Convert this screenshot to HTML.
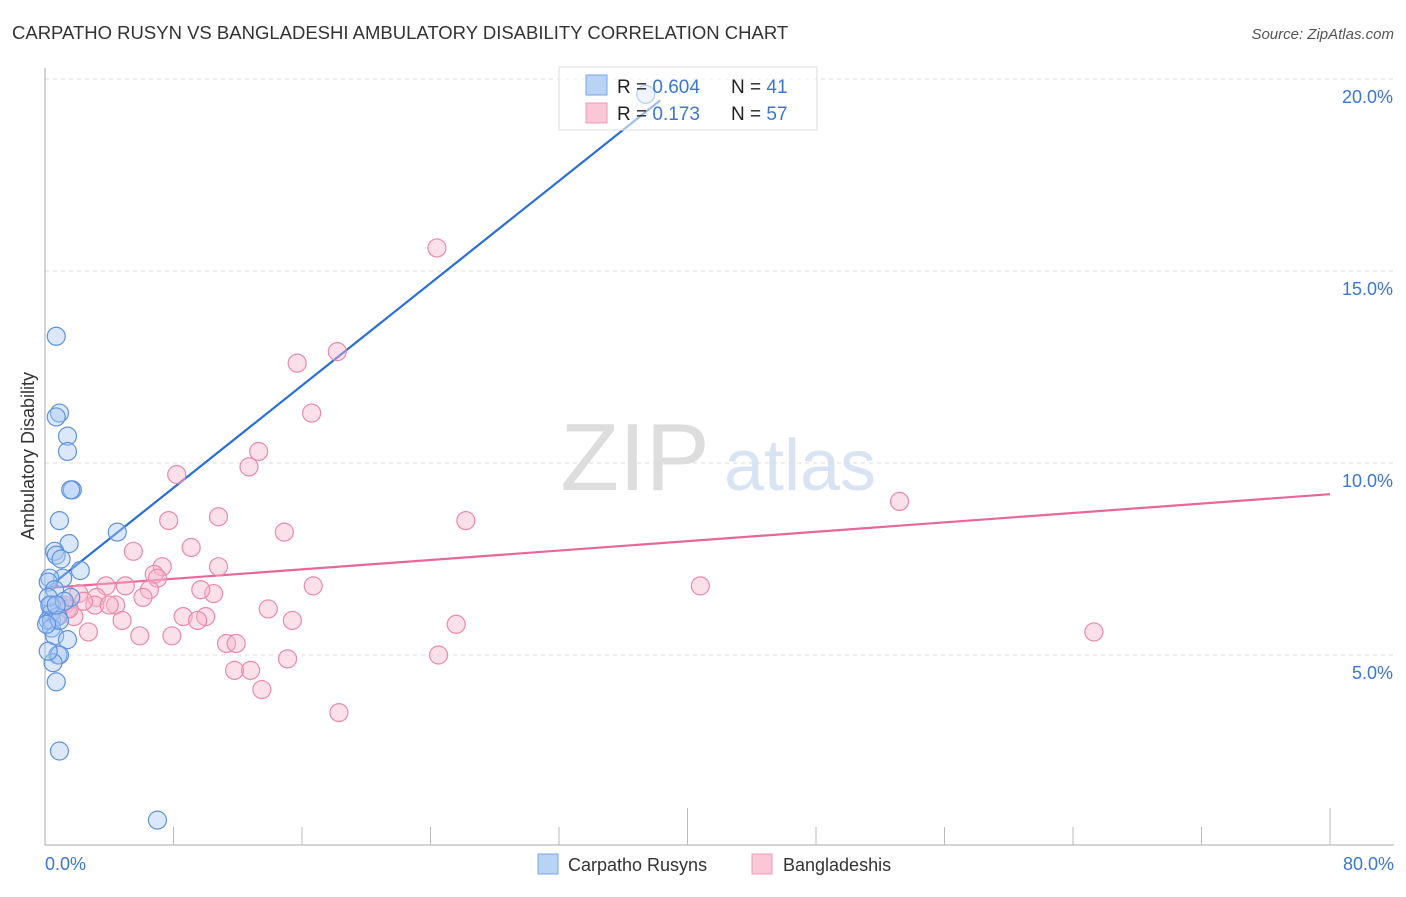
<!DOCTYPE html>
<html><head><meta charset="utf-8"><style>
body{margin:0;background:#fff;font-family:"Liberation Sans",sans-serif}
svg text{font-family:"Liberation Sans",sans-serif}
</style></head><body>
<svg id="chart" width="1406" height="892" viewBox="0 0 1406 892" xmlns="http://www.w3.org/2000/svg">
<text x="12" y="39" font-size="18.5" fill="#333">CARPATHO RUSYN VS BANGLADESHI AMBULATORY DISABILITY CORRELATION CHART</text>
<text x="1394" y="39" font-size="15" fill="#555" text-anchor="end" font-style="italic">Source: ZipAtlas.com</text>
<text x="34" y="456" font-size="18" fill="#333" text-anchor="middle" transform="rotate(-90 34 456)">Ambulatory Disability</text>
<g><text x="635" y="490" font-size="96" fill="#ddd" text-anchor="middle" font-family="Liberation Serif">ZIP</text><text x="800" y="490" font-size="72" fill="#d8e4f4" text-anchor="middle">atlas</text></g>
<g id="grid"></g><g id="axes"></g><g id="lines"></g><g id="pts"></g>
<g>
<rect x="559" y="67" width="258" height="63" fill="#fff" fill-opacity="0.55" stroke="#ddd"/>
<rect x="586" y="75" width="21" height="20" fill="#b9d3f5" stroke="#7aa5e5"/>
<rect x="586" y="103" width="21" height="20" fill="#fac7d6" stroke="#ef9ab5"/>
<text x="617" y="93" font-size="19" fill="#222">R = <tspan fill="#3b76d6">0.604</tspan></text>
<text x="731" y="93" font-size="19" fill="#222">N = <tspan fill="#3b76d6"> 41</tspan></text>
<text x="617" y="120" font-size="19" fill="#222">R = <tspan fill="#3b76d6"> 0.173</tspan></text>
<text x="731" y="120" font-size="19" fill="#222">N = <tspan fill="#3b76d6">57</tspan></text>
</g>
<g>
<rect x="538" y="854" width="20" height="20" fill="#b9d3f5" stroke="#7aa5e5"/>
<text x="568" y="871" font-size="18" fill="#333">Carpatho Rusyns</text>
<rect x="752" y="854" width="20" height="20" fill="#fac7d6" stroke="#ef9ab5"/>
<text x="783" y="871" font-size="18" fill="#333">Bangladeshis</text>
</g>
</svg>
<script>
const blueX=[37.4,0.7,0.9,0.7,1.4,1.4,1.7,1.6,0.9,4.5,1.5,0.6,0.7,1.0,1.1,2.2,0.3,0.2,0.6,0.4,0.4,1.6,0.2,0.4,0.8,0.4,0.6,1.4,0.8,0.9,0.5,0.7,0.9,7.0,0.2,0.3,0.9,0.1,0.2,1.2,0.7];
const blueY=[19.6,13.3,11.3,11.2,10.7,10.3,9.3,9.3,8.5,8.2,7.9,7.7,7.6,7.5,7.0,7.2,7.0,6.9,6.7,6.3,6.1,6.5,5.9,5.9,6.0,5.7,5.5,5.4,5.0,5.0,4.8,4.3,2.5,0.7,6.5,6.3,5.9,5.8,5.1,6.4,6.3];
const pinkX=[24.4,15.7,18.2,16.6,13.3,12.7,8.2,53.2,26.2,10.8,7.7,14.9,9.1,5.5,10.8,7.3,6.8,7.0,16.7,40.8,5.0,3.8,10.5,9.7,6.5,6.1,2.1,3.2,4.4,3.1,1.2,1.4,13.9,8.6,10.0,9.5,4.8,15.4,25.6,1.8,0.7,2.7,5.9,7.9,11.3,11.9,65.3,24.5,15.1,11.8,12.8,13.5,18.3,2.4,0.9,4.0,1.5];
const pinkY=[15.6,12.6,12.9,11.3,10.3,9.9,9.7,9.0,8.5,8.6,8.5,8.2,7.8,7.7,7.3,7.3,7.1,7.0,6.8,6.8,6.8,6.8,6.6,6.7,6.7,6.5,6.6,6.5,6.3,6.3,6.3,6.2,6.2,6.0,6.0,5.9,5.9,5.9,5.8,6.0,6.0,5.6,5.5,5.5,5.3,5.3,5.6,5.0,4.9,4.6,4.6,4.1,3.5,6.4,6.3,6.3,6.2];
const blueLine=[6.69,0.333,38.3]; // intercept, slope, x end
const pinkLine=[6.74,0.0306,80];
const yTicks=[5,10,15,20];
const xTicks=[0,8,16,24,32,40,48,56,64,72,80];
const NS='http://www.w3.org/2000/svg';
const sx=v=>45+v*16.0625, sy=v=>847-v*38.4;
function mk(parent,tag,attrs){const e=document.createElementNS(NS,tag);for(const k in attrs)e.setAttribute(k,attrs[k]);document.getElementById(parent).appendChild(e);return e;}
yTicks.forEach(t=>{
 const l=mk('grid','line',{x1:45,x2:1394,y1:sy(t),y2:sy(t),stroke:'#ddd','stroke-dasharray':'4 4'});
 
 
 const tx=mk('grid','text',{x:1393,y:sy(t)+24,'font-size':18,fill:'#3b76d6','text-anchor':'end'});
 tx.textContent=t.toFixed(1)+'%';
 
 
});
const ax=mk('axes','line',{x1:45,x2:1394,y1:845,y2:845,stroke:'#aaa'});


const ay=mk('axes','line',{x1:45,x2:45,y1:68,y2:845,stroke:'#aaa'});


xTicks.forEach((t,i)=>{
 if(i===0)return;
 const long=(t===40||t===80);
 const l=mk('axes','line',{x1:sx(t),x2:sx(t),y1:long?808:827,y2:845,stroke:'#bbb'});
 
 
});
[[0,'start',45],[80,'end',1394]].forEach(([t,a,x])=>{
 const tx=mk('axes','text',{x:x,y:870,'font-size':18,fill:'#3b76d6','text-anchor':a});
 tx.textContent=t.toFixed(1)+'%';
 
 
});
function drawPts(X,Y,fill,stroke,name){X.forEach((x,i)=>{
 const c=mk('pts','circle',{cx:sx(x),cy:sy(Y[i]),r:9,fill:fill,'fill-opacity':0.42,stroke:stroke,'stroke-width':1.2});
 
 
});}
drawPts(pinkX,pinkY,'#f7b6ca','#e98aa9','bangladeshi');
drawPts(blueX,blueY,'#a9c8f2','#5e92df','carpatho');
function drawLine(p,color,name){
 const l=mk('lines','line',{x1:sx(0),y1:sy(p[0]),x2:sx(p[2]),y2:sy(p[0]+p[1]*p[2]),stroke:color,'stroke-width':2.2});
 
 
}
drawLine(blueLine,'#2a6fd6','carpatho-trend-line');
drawLine(pinkLine,'#e8679a','bangladeshi-trend-line');
</script>
</body></html>
